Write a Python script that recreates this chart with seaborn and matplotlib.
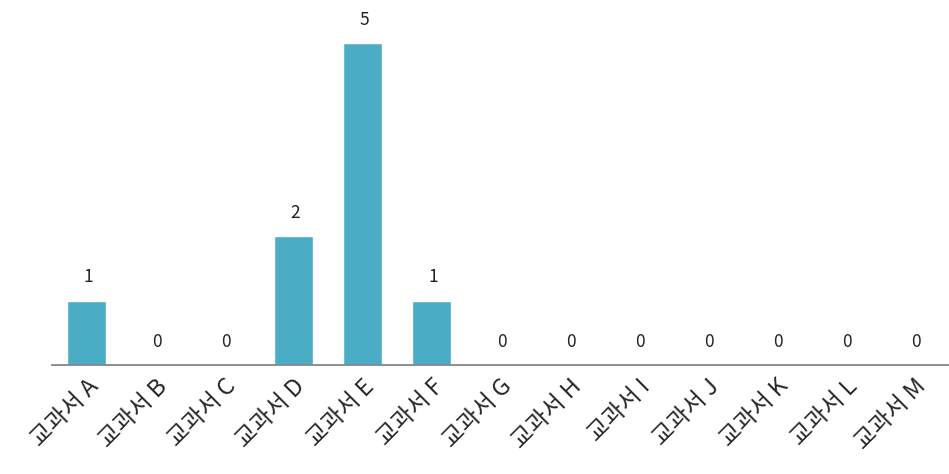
import matplotlib
matplotlib.use("Agg")
import matplotlib.pyplot as plt
import seaborn as sns
import pandas as pd

categories = ["교과서 A", "교과서 B", "교과서 C", "교과서 D", "교과서 E", "교과서 F", "교과서 G",
              "교과서 H", "교과서 I", "교과서 J", "교과서 K", "교과서 L", "교과서 M"]
counts = [1, 0, 0, 2, 5, 1, 0, 0, 0, 0, 0, 0, 0]

sns.set_style("white")
plt.rcParams['font.family'] = ['Noto Sans CJK KR', 'DejaVu Sans']

df = pd.DataFrame({'cat': categories, 'n': counts})

fig = plt.figure(figsize=(9.49, 4.74), dpi=100)
ax = fig.add_axes([52 / 949, 109 / 474, 1 - 52 / 949, 365 / 474])
sns.barplot(data=df, x='cat', y='n', color='#4BACC6', saturation=1, width=0.57, ax=ax)

# value labels above each bar
for i, v in enumerate(counts):
    ax.text(i + 0.02, v + 0.22, str(v), ha='center', va='bottom', fontsize=12.5, color='#222222')

ax.set_ylim(0, 5.67)
ax.set_xlim(-0.5, len(categories) - 0.5)
ax.set_xlabel('')
ax.set_ylabel('')
ax.set_yticks([])
for s in ['top', 'right', 'left']:
    ax.spines[s].set_visible(False)
ax.spines['bottom'].set_color('#868686')
ax.spines['bottom'].set_linewidth(1.3)
ax.tick_params(axis='x', length=0, pad=7)
plt.setp(ax.get_xticklabels(), rotation=45, ha='right', rotation_mode='anchor', fontsize=17)

fig.savefig('out.png', dpi=100)
